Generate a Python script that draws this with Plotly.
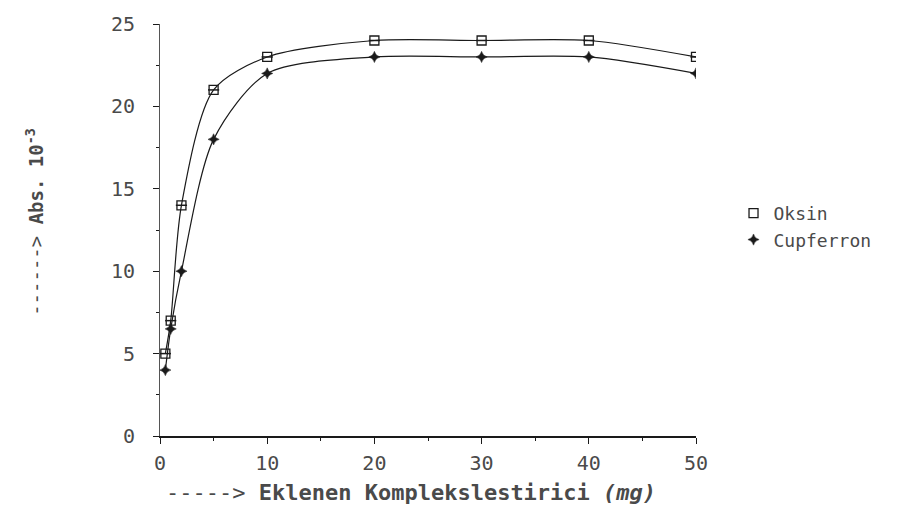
import plotly.graph_objects as go

# Added complexing agent (mg) and absorbance (x10^-3)
amount_mg = [0.5, 1, 2, 5, 10, 20, 30, 40, 50]
oksin_abs = [5, 7, 14, 21, 23, 24, 24, 24, 23]
cupferron_abs = [4, 6.5, 10, 18, 22, 23, 23, 23, 22]

x_ticks = [0, 10, 20, 30, 40, 50]
y_ticks = [0, 5, 10, 15, 20, 25]

mono = "DejaVu Sans Mono"
ink = "#1a1a1a"
text_grey = "#4a4a4a"

fig = go.Figure()

# Curves drawn as smooth black lines
fig.add_trace(go.Scatter(
    x=amount_mg, y=oksin_abs, mode="lines", showlegend=False,
    line=dict(color=ink, width=1.2, shape="spline", smoothing=0.8),
    hoverinfo="skip",
))
fig.add_trace(go.Scatter(
    x=amount_mg, y=cupferron_abs, mode="lines", showlegend=False,
    line=dict(color=ink, width=1.2, shape="spline", smoothing=0.8),
    hoverinfo="skip",
))

# Oksin markers: open square with a horizontal bar
fig.add_trace(go.Scatter(
    x=amount_mg, y=oksin_abs, mode="markers", name="Oksin", legendgroup="oksin",
    marker=dict(symbol="square-open", size=9, color=ink, line=dict(width=1.3, color=ink)),
))
fig.add_trace(go.Scatter(
    x=amount_mg, y=oksin_abs, mode="markers", showlegend=False, legendgroup="oksin",
    marker=dict(symbol="line-ew-open", size=8, color=ink, line=dict(width=1.5, color=ink)),
    hoverinfo="skip",
))
# Cupferron markers: small four-point star
fig.add_trace(go.Scatter(
    x=amount_mg, y=cupferron_abs, mode="markers", name="Cupferron", legendgroup="cup",
    marker=dict(symbol="star-diamond", size=8, color=ink, line=dict(width=0.5, color=ink)),
))

fig.update_layout(
    width=903, height=514,
    margin=dict(l=160, r=207, t=15, b=78),
    paper_bgcolor="white", plot_bgcolor="white",
    font=dict(family=mono, size=20, color=text_grey),
    showlegend=True,
    legend=dict(x=1.07, y=0.585, xanchor="left", yanchor="top",
                font=dict(family=mono, size=18, color=text_grey),
                bgcolor="rgba(0,0,0,0)", itemwidth=30, tracegroupgap=0),
)
fig.update_xaxes(
    range=[0, 50], tickvals=x_ticks, ticktext=[str(v) for v in x_ticks],
    showgrid=False, zeroline=False, showline=True, linecolor=ink, linewidth=2,
    ticks="outside", ticklen=6, tickcolor=ink, ticklabelstandoff=2,
    minor=dict(dtick=5, ticks="outside", ticklen=3, tickcolor=ink),
)
fig.update_yaxes(
    range=[0, 25], tickvals=y_ticks, ticktext=[str(v) for v in y_ticks],
    showgrid=False, zeroline=False, showline=True, linecolor="#555555", linewidth=1,
    ticks="outside", ticklen=6, tickcolor=ink, ticklabelstandoff=14,
    minor=dict(dtick=2.5, ticks="outside", ticklen=3, tickcolor=ink),
)

# Axis titles
fig.add_annotation(
    text="-----> <b>Eklenen Komplekslestirici <i>(mg)</i></b>",
    xref="paper", yref="paper", x=0.468, y=-0.138,
    xanchor="center", yanchor="middle", showarrow=False,
    font=dict(family=mono, size=22, color=text_grey),
)
fig.add_annotation(
    text="------> <b>Abs. 10<sup>-3</sup></b>",
    xref="paper", yref="paper", x=-0.233, y=0.52,
    xanchor="center", yanchor="middle", textangle=-90, showarrow=False,
    font=dict(family=mono, size=19, color=text_grey),
)

fig.write_html("out.html")
